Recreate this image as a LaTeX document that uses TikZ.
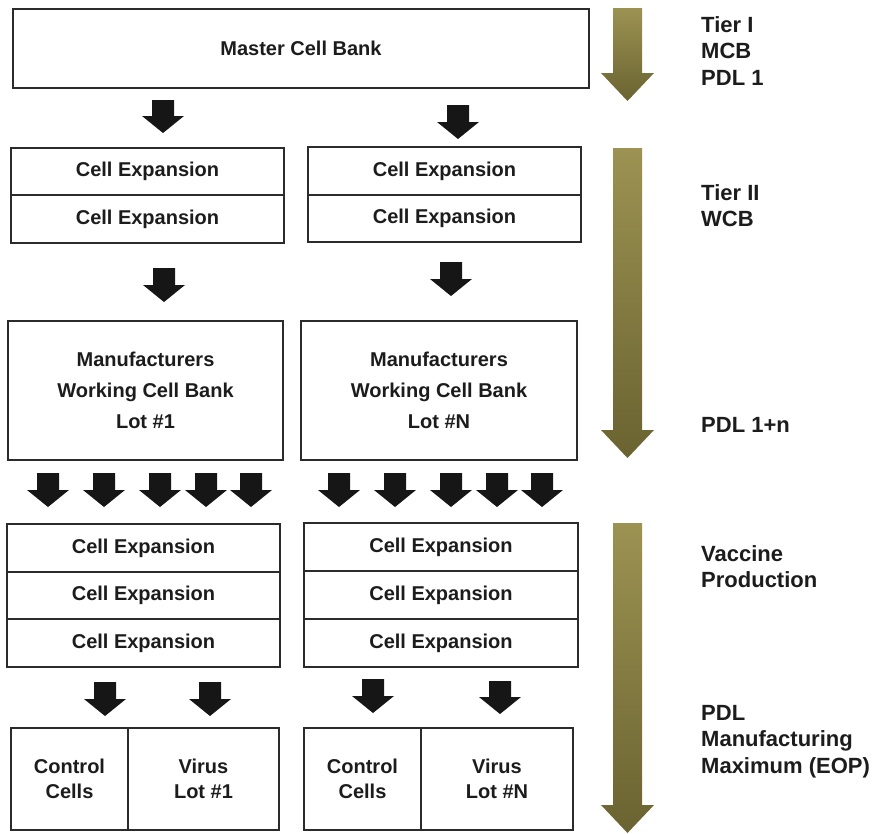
\documentclass[tikz,border=0pt]{standalone}
\usepackage{fontspec}
\setmainfont{Liberation Sans}
\usetikzlibrary{positioning}
\definecolor{boxline}{HTML}{2B2B2B}
\definecolor{txt}{HTML}{1C1C1C}
\definecolor{blk}{HTML}{161616}
\definecolor{oliveTop}{HTML}{9C9252}
\definecolor{oliveBot}{HTML}{6A6331}
% black block arrow: x, y of top, y of tip
\newcommand{\blkarrow}[3]{%
  \fill[blk] ({#1-11},#2) -- ({#1+11},#2) -- ({#1+11},{#3-17}) -- ({#1+21},{#3-17})
    -- (#1,#3) -- ({#1-21},{#3-17}) -- ({#1-11},{#3-17}) -- cycle;}
% shaded tier arrow: y of top, y of tip
\newcommand{\tierarrow}[2]{%
  \shade[top color=oliveTop, bottom color=oliveBot] (613,#1) -- (642,#1) -- (642,{#2-28})
    -- (654,{#2-28}) -- (627.5,#2) -- (601,{#2-28}) -- (613,{#2-28}) -- cycle;}
\begin{document}
\begin{tikzpicture}[x=1pt, y=-1pt,
    box/.style={draw=boxline, line width=1.4pt, fill=white, inner sep=0pt, outer sep=0pt,
      anchor=north west, align=center, text=txt, font=\fontsize{20}{24}\selectfont\bfseries},
    cellrow/.style={box, minimum height=48pt},
    lbl/.style={anchor=north west, inner sep=0pt, align=left, text=txt,
      font=\fontsize{22}{26.5}\selectfont\bfseries}]
  \useasboundingbox (0,0) rectangle (886,833);

  % Tier I
  \node[box, minimum width=576pt, minimum height=79pt] (mcb) at (13,9) {Master Cell Bank};

  % Tier II
  \node[cellrow, minimum width=273pt, minimum height=47pt] (exA1) at (11,148) {Cell Expansion};
  \node[cellrow, minimum width=273pt] (exA2) at (exA1.south west) {Cell Expansion};
  \node[cellrow, minimum width=273pt] (exB1) at (308,147) {Cell Expansion};
  \node[cellrow, minimum width=273pt, minimum height=47pt] (exB2) at (exB1.south west) {Cell Expansion};

  \node[box, minimum width=275pt, minimum height=139pt, font=\fontsize{20}{31}\selectfont\bfseries]
    (wcbA) at (8,321) {Manufacturers\\Working Cell Bank\\Lot \#1};
  \node[box, minimum width=276pt, minimum height=139pt, font=\fontsize{20}{31}\selectfont\bfseries]
    (wcbB) at (301,321) {Manufacturers\\Working Cell Bank\\Lot \#N};

  % vaccine production
  \node[cellrow, minimum width=273pt] (vpA1) at (7,524) {Cell Expansion};
  \node[cellrow, minimum width=273pt, minimum height=47pt] (vpA2) at (vpA1.south west) {Cell Expansion};
  \node[cellrow, minimum width=273pt] (vpA3) at (vpA2.south west) {Cell Expansion};
  \node[cellrow, minimum width=274pt] (vpB1) at (304,523) {Cell Expansion};
  \node[cellrow, minimum width=274pt] (vpB2) at (vpB1.south west) {Cell Expansion};
  \node[cellrow, minimum width=274pt] (vpB3) at (vpB2.south west) {Cell Expansion};

  % end of production
  \node[box, minimum width=117pt, minimum height=102pt, font=\fontsize{20}{25.5}\selectfont\bfseries]
    (ctlA) at (11,728) {Control\\Cells};
  \node[box, minimum width=151pt, minimum height=102pt, font=\fontsize{20}{25.5}\selectfont\bfseries]
    (virA) at (ctlA.north east) {Virus\\Lot \#1};
  \node[box, minimum width=117pt, minimum height=102pt, font=\fontsize{20}{25.5}\selectfont\bfseries]
    (ctlB) at (304,728) {Control\\Cells};
  \node[box, minimum width=152pt, minimum height=102pt, font=\fontsize{20}{25.5}\selectfont\bfseries]
    (virB) at (ctlB.north east) {Virus\\Lot \#N};

  % black arrows
  \blkarrow{163}{100}{133}
  \blkarrow{458}{105}{139}
  \blkarrow{164}{268}{302}
  \blkarrow{451}{262}{296}
  \foreach \x in {48,104,160,206,251,339,395,451,497,542} {\blkarrow{\x}{473}{507}}
  \blkarrow{105}{682}{716}
  \blkarrow{210}{682}{716}
  \blkarrow{373}{679}{713}
  \blkarrow{500}{681}{714}

  % tier arrows
  \tierarrow{8}{101}
  \tierarrow{148}{458}
  \tierarrow{523}{833}

  % labels
  \node[lbl] (tier1) at (701,16) {Tier I\\MCB\\PDL 1};
  \node[lbl] (tier2) at (701,184) {Tier II\\WCB};
  \node[lbl] (pdln) at (701,417) {PDL 1+n};
  \node[lbl] (vacc) at (701,545) {Vaccine\\Production};
  \node[lbl] (eop) at (701,705) {PDL\\Manufacturing\\Maximum (EOP)};
\end{tikzpicture}
\end{document}
